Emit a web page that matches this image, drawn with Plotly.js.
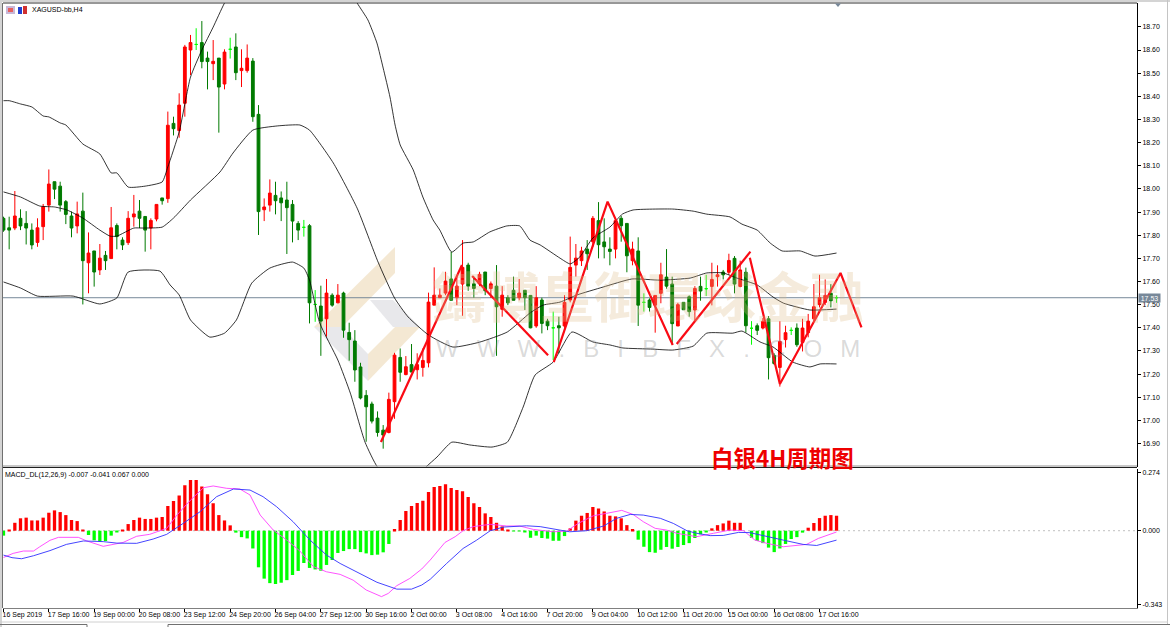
<!DOCTYPE html>
<html>
<head>
<meta charset="utf-8">
<script src="https://cdn.plot.ly/plotly-3.0.1.min.js"></script>
<style>html,body{margin:0;padding:0;background:#fff}#chart{width:1170px;height:627px}</style>
</head>
<body>
<div id="chart"></div>
<script>
// XAGUSD H4 candles
var openPrices = [
 17.873,17.832,17.831,17.873,17.851,17.822,17.769,17.837,17.930,18.031,
 18.012,17.945,17.883,17.840,17.904,17.681,17.732,17.650,17.713,17.699,
 17.842,17.779,17.768,17.879,17.904,17.881,17.831,17.870,17.961,17.958,
 18.283,18.252,18.370,18.600,18.624,18.632,18.565,18.541,18.565,18.453,
 18.603,18.613,18.511,18.511,18.552,18.322,17.910,17.930,17.972,17.961,
 17.952,17.933,17.851,17.834,17.841,17.501,17.494,17.439,17.541,17.508,
 17.550,17.380,17.343,17.231,17.108,17.071,17.010,16.958,16.948,17.081,
 17.272,17.198,17.241,17.219,17.229,17.249,17.498,17.530,17.550,17.611,
 17.530,17.589,17.671,17.590,17.590,17.641,17.570,17.580,17.480,17.530,
 17.562,17.530,17.562,17.540,17.408,17.520,17.429,17.400,17.409,17.408,
 17.520,17.671,17.690,17.740,17.772,17.863,17.771,17.740,17.740,17.873,
 17.851,17.690,17.732,17.510,17.520,17.498,17.549,17.619,17.589,17.408,
 17.510,17.534,17.477,17.579,17.569,17.579,17.621,17.641,17.640,17.700,
 17.579,17.640,17.398,17.409,17.399,17.439,17.281,17.229,17.349,17.389,
 17.399,17.337,17.379,17.439,17.500,17.510,17.549,17.530];
var highPrices = [
 17.880,17.880,17.991,17.912,17.904,17.851,17.873,17.935,18.084,18.031,
 18.031,17.952,17.902,17.945,17.984,17.812,17.732,17.762,17.732,17.922,
 17.851,17.791,17.904,17.974,17.952,17.881,17.873,17.933,17.961,18.334,
 18.312,18.413,18.622,18.665,18.694,18.725,18.593,18.643,18.565,18.603,
 18.653,18.672,18.603,18.624,18.565,18.362,17.959,18.041,18.031,17.989,
 18.031,17.952,17.861,17.866,17.848,17.563,17.582,17.611,17.549,17.589,
 17.556,17.422,17.390,17.249,17.131,17.081,17.039,16.980,17.120,17.292,
 17.311,17.278,17.330,17.290,17.311,17.552,17.661,17.570,17.642,17.729,
 17.621,17.779,17.681,17.621,17.642,17.641,17.600,17.671,17.580,17.541,
 17.621,17.611,17.562,17.541,17.580,17.530,17.439,17.470,17.448,17.541,
 17.794,17.762,17.750,17.779,17.883,17.943,17.873,17.791,17.873,17.883,
 17.851,17.772,17.791,17.549,17.527,17.540,17.681,17.740,17.621,17.508,
 17.510,17.540,17.580,17.621,17.629,17.681,17.670,17.650,17.720,17.710,
 17.690,17.660,17.429,17.419,17.442,17.451,17.290,17.429,17.409,17.402,
 17.419,17.439,17.460,17.589,17.629,17.609,17.589,17.540];
var lowPrices = [
 17.815,17.739,17.822,17.822,17.760,17.739,17.750,17.779,17.902,17.956,
 17.902,17.848,17.791,17.808,17.501,17.549,17.578,17.628,17.650,17.699,
 17.739,17.736,17.758,17.837,17.831,17.729,17.739,17.860,17.932,17.940,
 18.231,18.221,18.312,18.492,18.600,18.521,18.430,18.470,18.243,18.430,
 18.563,18.470,18.440,18.502,18.290,17.801,17.861,17.902,17.890,17.861,
 17.719,17.769,17.779,17.794,17.419,17.426,17.279,17.362,17.491,17.506,
 17.357,17.258,17.167,17.091,16.908,16.987,16.930,16.878,16.944,17.007,
 17.167,17.195,17.209,17.177,17.189,17.229,17.498,17.529,17.541,17.519,
 17.498,17.452,17.560,17.530,17.580,17.541,17.529,17.279,17.448,17.498,
 17.519,17.519,17.477,17.398,17.400,17.376,17.390,17.261,17.290,17.400,
 17.510,17.621,17.667,17.650,17.750,17.700,17.700,17.670,17.700,17.772,
 17.640,17.670,17.408,17.470,17.470,17.379,17.506,17.569,17.326,17.408,
 17.478,17.448,17.428,17.517,17.537,17.497,17.578,17.609,17.629,17.549,
 17.575,17.379,17.327,17.369,17.393,17.177,17.239,17.146,17.315,17.369,
 17.318,17.298,17.359,17.429,17.488,17.498,17.488,17.508];
var closePrices = [
 17.822,17.822,17.883,17.840,17.831,17.758,17.832,17.923,18.021,17.999,
 17.930,17.890,17.831,17.892,17.690,17.723,17.641,17.701,17.690,17.832,
 17.794,17.758,17.873,17.892,17.873,17.822,17.864,17.933,17.949,18.275,
 18.260,18.362,18.613,18.632,18.624,18.550,18.550,18.551,18.440,18.591,
 18.603,18.502,18.521,18.565,18.312,17.902,17.922,17.982,17.949,17.940,
 17.919,17.861,17.822,17.834,17.508,17.501,17.429,17.550,17.498,17.541,
 17.390,17.349,17.218,17.097,17.059,16.997,16.948,16.937,17.091,17.282,
 17.208,17.232,17.209,17.241,17.259,17.511,17.541,17.541,17.602,17.519,
 17.580,17.661,17.580,17.570,17.631,17.560,17.590,17.491,17.541,17.508,
 17.519,17.550,17.530,17.400,17.530,17.419,17.409,17.400,17.400,17.510,
 17.661,17.701,17.732,17.720,17.873,17.759,17.750,17.730,17.863,17.841,
 17.711,17.740,17.498,17.510,17.488,17.540,17.629,17.580,17.418,17.500,
 17.478,17.470,17.570,17.559,17.569,17.609,17.629,17.629,17.691,17.589,
 17.650,17.409,17.398,17.389,17.428,17.271,17.246,17.341,17.379,17.389,
 17.327,17.399,17.429,17.491,17.530,17.540,17.517,17.530];

// Bollinger bands: bar position and price of each bend of the line
var upperBarPos = [0,1,3,5,7,8,10,11,14,17,19,20,22,25,28,29,31,33,35,37,39,43.5,49.7,57.6,62.4,64.3,65.9,67,68.2,69.1,70,72.3,74,75.8,77,79.1,81.1,82.9,85.8,88.8,91.1,92.9,94.7,98.2,100,101.7,104,107,109.2,111.1,118.1,121.7,124.1,128.2,130.3,133,135.3,137.4,140.6,143.2,147];
var upperBand = [18.381,18.381,18.367,18.354,18.315,18.311,18.285,18.276,18.194,18.151,18.069,18.069,18.008,18.012,18.030,18.095,18.246,18.483,18.600,18.699,18.803,18.989,19.075,19.010,18.803,18.730,18.630,18.522,18.397,18.276,18.190,18.082,17.965,17.866,17.822,17.727,17.766,17.771,17.814,17.840,17.840,17.779,17.758,17.701,17.676,17.706,17.788,17.835,17.891,17.909,17.913,17.904,17.891,17.879,17.848,17.822,17.766,17.732,17.732,17.710,17.723];
var middleBarPos = [0,3,6.4,9,11.2,14,17,18.8,20,23,24.6,28,30,33,38.2,40.5,44,48.3,52.3,54,58.2,62.4,66.1,69,71.4,75,79.3,84,88.9,92.9,95.2,98.2,101.2,105.8,110.9,115.8,121.2,124.1,127,129.4,133,135.8,137.6,142.3,147];
var middleBand = [17.987,17.965,17.926,17.922,17.909,17.874,17.822,17.796,17.796,17.831,17.831,17.835,17.874,17.952,18.073,18.155,18.254,18.272,18.276,18.254,18.112,17.917,17.684,17.529,17.447,17.369,17.317,17.338,17.382,17.464,17.498,17.511,17.542,17.576,17.611,17.606,17.615,17.637,17.637,17.615,17.585,17.533,17.507,17.477,17.481];
var lowerBarPos = [0,3,6,12.3,17,20,22,27.6,29.4,31,33,36.4,39,41.1,43.8,47,51,53,54,55.8,59,61.2,63.8,66,70.4,74.5,76.5,79.1,82.3,86.2,88.9,91.7,93.8,97,100.3,104,107,109.3,114.6,118.1,121.7,124.1,128.7,130.3,133.5,135.8,139.3,142.3,144.1,147];
var lowerBand = [17.598,17.572,17.537,17.537,17.503,17.529,17.641,17.645,17.585,17.542,17.434,17.360,17.377,17.434,17.593,17.658,17.684,17.658,17.606,17.421,17.261,17.118,16.906,16.798,16.700,16.798,16.842,16.906,16.894,16.885,16.906,17.058,17.196,17.252,17.382,17.339,17.326,17.313,17.308,17.304,17.321,17.377,17.377,17.386,17.339,17.317,17.252,17.231,17.244,17.244];

// hand drawn red zigzag, null breaks the line
var zigzagBarPos = [66.6,80.9,null,82.7,96.1,null,97.1,106.6,118.1,null,118.8,131.8,null,131.7,137,147.7,151.4];
var zigzagPrice = [16.907,17.671,null,17.624,17.282,null,17.252,17.945,17.326,null,17.330,17.729,null,17.703,17.157,17.637,17.402];

// MACD panel
var macdHist = [
 -0.023,0.001,0.037,0.058,0.061,0.048,0.048,0.061,0.084,0.095,
 0.087,0.073,0.05,0.045,0.003,-0.02,-0.045,-0.051,-0.048,-0.023,
 -0.006,0.005,0.031,0.05,0.061,0.055,0.055,0.061,0.064,0.115,
 0.139,0.164,0.213,0.237,0.237,0.207,0.17,0.128,0.073,0.048,
 0.025,-0.009,-0.03,-0.036,-0.083,-0.171,-0.224,-0.245,-0.249,-0.243,
 -0.231,-0.207,-0.188,-0.151,-0.174,-0.181,-0.187,-0.16,-0.137,-0.104,
 -0.095,-0.086,-0.086,-0.1,-0.106,-0.114,-0.112,-0.101,-0.062,0.008,
 0.05,0.092,0.115,0.129,0.14,0.181,0.204,0.209,0.217,0.199,
 0.19,0.184,0.157,0.128,0.111,0.081,0.064,0.037,0.02,0.003,
 -0.003,-0.003,-0.006,-0.033,-0.023,-0.034,-0.037,-0.047,-0.047,-0.025,
 0.011,0.047,0.07,0.083,0.111,0.104,0.09,0.07,0.067,0.058,
 0.026,0.008,-0.042,-0.075,-0.1,-0.103,-0.089,-0.076,-0.084,-0.076,
 -0.067,-0.058,-0.034,-0.017,-0.005,0.011,0.026,0.034,0.047,0.037,
 0.037,0,-0.033,-0.048,-0.058,-0.079,-0.1,-0.083,-0.062,-0.039,
 -0.03,-0.009,0.014,0.036,0.059,0.07,0.073,0.07];
var macdBarPos = [0,1.7,3.5,5.3,6.4,8.2,9.7,13.2,14.7,17.6,21.1,23.5,25.8,28.8,30.6,33,35.3,37,39.4,41.7,43.5,45.3,47.6,50,52.3,54.7,57,59.4,61.7,64,66.7,67.9,69.4,71.7,73.8,75.3,77.9,79.7,81.1,82.9,85.9,88.8,91.1,93.5,97,99.4,101.4,104.1,106.4,109.1,111.1,112.9,115,117,118.8,122.3,125.3,128.2,130.6,132.6,134.7,137.6,141.7,143.8,145.5,147];
var macdLine = [-0.125,-0.106,-0.095,-0.095,-0.075,-0.045,-0.031,-0.031,-0.048,-0.073,-0.055,-0.026,-0.017,0.011,0.073,0.143,0.201,0.209,0.198,0.195,0.167,0.073,0.003,-0.044,-0.095,-0.168,-0.192,-0.204,-0.231,-0.277,-0.308,-0.293,-0.257,-0.223,-0.179,-0.137,-0.055,-0.028,0,0.019,0.03,0.022,0.022,0.006,-0.005,-0.002,0.034,0.07,0.081,0.095,0.076,0.042,0.011,0.003,-0.012,-0.028,-0.012,0.003,0,-0.044,-0.059,-0.075,-0.064,-0.036,-0.02,-0.006];
var signalBarPos = [0,1.5,3.2,5.3,8.2,11.1,14.1,17.6,20,23.5,26.4,28.8,31.7,34.7,37.6,40.6,43.5,45.8,48.2,51.1,54.1,57,59.4,62.9,65.9,69.4,72,73.8,75.3,78.2,81.1,83.5,85.9,88.2,92.3,94.7,97.6,99.9,102.9,105.9,108.2,110.6,112.9,115.9,118.2,120.6,122.3,124.7,127,129.7,131.7,134.7,137.6,141.1,143.5,147];
var signalLine = [-0.114,-0.126,-0.131,-0.117,-0.093,-0.064,-0.048,-0.051,-0.058,-0.059,-0.039,-0.017,0.034,0.089,0.159,0.195,0.19,0.159,0.112,0.042,-0.044,-0.114,-0.153,-0.199,-0.241,-0.273,-0.273,-0.254,-0.227,-0.153,-0.083,-0.044,0,0.017,0.023,0.019,0.006,-0.005,0,0.022,0.058,0.076,0.073,0.058,0.034,0,-0.012,-0.023,-0.022,-0.008,-0.009,-0.028,-0.044,-0.064,-0.069,-0.044];

var lastPrice = 17.53;
var priceTicks = [16.9,17.0,17.1,17.2,17.3,17.4,17.5,17.6,17.7,17.8,17.9,18.0,18.1,18.2,18.3,18.4,18.5,18.6,18.7];
var macdTicks = [0.274,0,-0.343];
var macdTickText = ['0.274','0.000','-0.343'];
var timeTicks = [0,8,16,24,32,40,48,56,64,72,80,88,96,104,112,120,128,136,144];
var timeLabels = ['16 Sep 2019','17 Sep 16:00','19 Sep 00:00','20 Sep 08:00','23 Sep 12:00','24 Sep 20:00','26 Sep 04:00','27 Sep 12:00','30 Sep 16:00','2 Oct 00:00','3 Oct 08:00','4 Oct 16:00','7 Oct 20:00','9 Oct 04:00','10 Oct 12:00','11 Oct 20:00','15 Oct 00:00','16 Oct 08:00','17 Oct 16:00'];

var FONT = 'Liberation Sans, Arial, sans-serif';
var CJK = '"Noto Sans CJK TC", "Noto Sans CJK SC", sans-serif';

// plot box in window pixels, used for the window frame and the logo
var plotL = 3, plotR = 1137, plotT = 3, plotB = 608;
function pxX(x){ return (x - plotL) / (plotR - plotL); }
function pxY(y){ return (plotB - y) / (plotB - plotT); }

function line(x0, y0, x1, y1, color, w){
    return {type:'line', xref:'paper', yref:'paper', x0:pxX(x0), y0:pxY(y0), x1:pxX(x1), y1:pxY(y1), line:{color:color, width:w}};
}
function rect(x0, y0, x1, y1, color){
    return {type:'rect', xref:'paper', yref:'paper', x0:pxX(x0), y0:pxY(y0), x1:pxX(x1), y1:pxY(y1), fillcolor:color, line:{width:0}};
}
function poly(points, color){
    var path = points.map(function(p, i){ return (i ? 'L' : 'M') + pxX(p[0]) + ',' + pxY(p[1]); }).join(' ') + ' Z';
    return {type:'path', xref:'paper', yref:'paper', path:path, fillcolor:color, line:{width:0}, layer:'below'};
}

var barIndex = openPrices.map(function(v, i){ return i; });
var dojiIdx = barIndex.filter(function(i){ return openPrices[i] === closePrices[i]; });
var bodyIdx = barIndex.filter(function(i){ return openPrices[i] !== closePrices[i]; });
function pick(arr, idx){ return idx.map(function(i){ return arr[i]; }); }

var candles = {
    type:'candlestick', x:bodyIdx, open:pick(openPrices,bodyIdx), high:pick(highPrices,bodyIdx),
    low:pick(lowPrices,bodyIdx), close:pick(closePrices,bodyIdx), xaxis:'x', yaxis:'y',
    whiskerwidth:0, hoverinfo:'skip',
    increasing:{line:{color:'#ff0000', width:1}, fillcolor:'#ff0000'},
    decreasing:{line:{color:'#007a00', width:1}, fillcolor:'#007a00'}
};
var dojis = {
    type:'candlestick', x:dojiIdx, open:pick(openPrices,dojiIdx), high:pick(highPrices,dojiIdx),
    low:pick(lowPrices,dojiIdx), close:pick(closePrices,dojiIdx), xaxis:'x', yaxis:'y',
    whiskerwidth:0, hoverinfo:'skip',
    increasing:{line:{color:'#00ff00', width:1}, fillcolor:'#00ff00'},
    decreasing:{line:{color:'#00ff00', width:1}, fillcolor:'#00ff00'}
};
function bandTrace(x, y){
    return {type:'scatter', mode:'lines', x:x, y:y, xaxis:'x', yaxis:'y', hoverinfo:'skip', line:{color:'#000000', width:0.8, shape:'spline', smoothing:0.5}};
}
var zigzag = {type:'scatter', mode:'lines', x:zigzagBarPos, y:zigzagPrice, xaxis:'x', yaxis:'y', hoverinfo:'skip', connectgaps:false, line:{color:'#fa0a14', width:2.2}};
var hist = {
    type:'bar', x:barIndex, y:macdHist, xaxis:'x', yaxis:'y2', hoverinfo:'skip',
    marker:{color:macdHist.map(function(v){ return v >= 0 ? '#ff0000' : '#00ff00'; }), line:{width:0}}
};
var macdTrace = {type:'scatter', mode:'lines', x:macdBarPos, y:macdLine, xaxis:'x', yaxis:'y2', hoverinfo:'skip', line:{color:'#ff40ff', width:0.9}};
var signalTrace = {type:'scatter', mode:'lines', x:signalBarPos, y:signalLine, xaxis:'x', yaxis:'y2', hoverinfo:'skip', line:{color:'#3030ff', width:0.9}};

var data = [candles, dojis, bandTrace(upperBarPos,upperBand), bandTrace(middleBarPos,middleBand), bandTrace(lowerBarPos,lowerBand), zigzag, hist, macdTrace, signalTrace];

var shapes = [
    // watermark logo
    poly([[314,327],[395,247],[395,273],[342,327]], 'rgba(228,200,150,0.42)'),
    poly([[370,300],[393,300],[420,327],[393,327]], 'rgba(205,205,210,0.45)'),
    poly([[314,327],[342,327],[368,354],[368,381]], 'rgba(205,205,210,0.45)'),
    poly([[368,354],[395,327],[420,327],[368,381]], 'rgba(228,200,150,0.42)'),
    // last price line
    {type:'line', xref:'paper', yref:'y', x0:0, x1:1, y0:lastPrice, y1:lastPrice, line:{color:'#778899', width:1}, layer:'below'},
    // zero line of the MACD panel
    {type:'line', xref:'paper', yref:'y2', x0:0, x1:1, y0:0, y1:0, line:{color:'#c0c0c0', width:1, dash:'2px,3px'}, layer:'below'},
    // panel frame
    line(3, 3, 1137, 3, '#303030', 1),
    line(3, 466, 1137, 466, '#909090', 1),
    line(3, 467.5, 1137, 467.5, '#202020', 1),
    line(2.5, 3, 2.5, 608, '#707070', 1),
    // window frame
    rect(-3, -3, 1173, 2, '#d4d4d4'),
    rect(-3, -3, 2, 630, '#d4d4d4'),
    line(1167.5, 0, 1167.5, 625, '#c4c4c4', 1),
    line(0, 622, 1168, 622, '#d0d0d0', 1),
    line(0, 624.5, 87, 624.5, '#707070', 1),
    line(87, 624.5, 87, 627, '#707070', 1),
    line(168, 624.5, 1170, 624.5, '#707070', 1),
    line(168, 624.5, 168, 627, '#707070', 1),
    // toolbar icons in the corner
    rect(6, 6, 15, 14, '#c8b8d8'),
    rect(8, 8, 13, 12, '#e86060'),
    rect(18, 7, 22, 14, '#2040d0'),
    rect(23, 6, 27, 14, '#d03030'),
    // chart shift marker
    {type:'path', xref:'paper', yref:'paper', path:'M'+pxX(835)+','+pxY(3.5)+' L'+pxX(841)+','+pxY(3.5)+' L'+pxX(838)+','+pxY(7)+' Z', fillcolor:'#778899', line:{width:0}}
];

// letters of the site name stand far apart in the watermark
var siteGap = '\u00a0\u00a0\u2009';
var siteName = 'WWW.BIBFX.COM'.split('').join(siteGap);

var annotations = [
    {xref:'paper', yref:'paper', x:pxX(648), y:pxY(294), text:'鑄博皇御環球金融', showarrow:false, xanchor:'center', yanchor:'middle',
     font:{family:CJK, size:54, color:'rgba(222,190,140,0.3)', weight:700}},
    {xref:'paper', yref:'paper', x:pxX(648), y:pxY(348), text:siteName, showarrow:false, xanchor:'center', yanchor:'middle',
     font:{family:FONT, size:24, color:'rgba(140,140,140,0.32)'}},
    {xref:'paper', yref:'paper', x:pxX(30), y:pxY(10), text:'XAGUSD-bb,H4', showarrow:false, xanchor:'left', yanchor:'middle', font:{family:FONT, size:7, color:'#000'}},
    {xref:'paper', yref:'paper', x:pxX(3), y:pxY(474.5), text:'MACD_DL(12,26,9) -0.007 -0.041 0.067 0.000', showarrow:false, xanchor:'left', yanchor:'middle', font:{family:FONT, size:7, color:'#000'}},
    {xref:'paper', yref:'paper', x:pxX(782), y:pxY(456.5), text:'白银4H周期图', showarrow:false, xanchor:'center', yanchor:'middle', font:{family:'"Noto Sans CJK SC", sans-serif', size:22.5, color:'#ee0000', weight:700}},
    {xref:'paper', yref:'y', x:pxX(1138), y:lastPrice, text:lastPrice.toFixed(2), showarrow:false, xanchor:'left', yanchor:'middle', bgcolor:'#778899', borderpad:0, width:21, height:8, font:{family:FONT, size:7, color:'#fff'}}
];

var layout = {
    width:1170, height:627,
    margin:{l:plotL, r:1170-plotR, t:plotT, b:627-plotB, pad:0},
    paper_bgcolor:'#ffffff', plot_bgcolor:'#ffffff',
    showlegend:false, bargap:0.42, boxgap:0.3, hovermode:false,
    xaxis:{
        anchor:'y2', domain:[0,1], range:[-0.088,200.02], type:'linear', fixedrange:true,
        rangeslider:{visible:false}, showgrid:false, zeroline:false,
        showline:true, linecolor:'#808080', linewidth:1,
        tickmode:'array', tickvals:timeTicks, ticktext:timeLabels, ticks:'outside', ticklen:3, tickwidth:1, tickcolor:'#000',
        ticklabelposition:'outside right', ticklabelshift:-2, tickangle:0, tickfont:{family:FONT, size:7, color:'#000'}
    },
    yaxis:{
        domain:[pxY(466.5),1], range:[16.801,18.803], anchor:'x', side:'right', fixedrange:true,
        showgrid:false, zeroline:false, showline:true, linecolor:'#000', linewidth:1,
        tickmode:'array', tickvals:priceTicks, ticktext:priceTicks.map(function(v){ return v.toFixed(2); }),
        ticks:'outside', ticklen:3, tickwidth:1, tickcolor:'#000', tickfont:{family:FONT, size:7, color:'#000'}
    },
    yaxis2:{
        domain:[0,pxY(468.5)], range:[-0.3612,0.2907], anchor:'x', side:'right', fixedrange:true,
        showgrid:false, zeroline:false, showline:true, linecolor:'#000', linewidth:1,
        tickmode:'array', tickvals:macdTicks, ticktext:macdTickText,
        ticks:'outside', ticklen:3, tickwidth:1, tickcolor:'#000', tickfont:{family:FONT, size:7, color:'#000'}
    },
    shapes:shapes,
    annotations:annotations
};

Plotly.newPlot('chart', data, layout, {displayModeBar:false, responsive:false});
</script>
</body>
</html>
